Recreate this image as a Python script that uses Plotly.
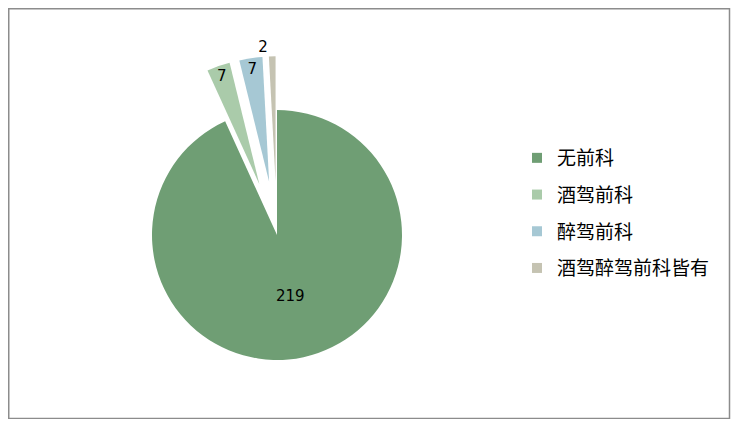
import plotly.graph_objects as go

categories = ["无前科", "酒驾前科", "醉驾前科", "酒驾醉驾前科皆有"]
values = [219, 7, 7, 2]
colors = ["#6F9E74", "#AACBAA", "#A6C8D4", "#C5C3B2"]
pulls = [0, 0.43, 0.43, 0.43]
text_pos = ["inside", "inside", "inside", "outside"]

# page has an 8px body margin, so the figure is drawn 8px smaller on each side
OFF = 8
W, H = 739 - 2 * OFF, 427 - 2 * OFF
cx, cy, r = 277 - OFF, 235 - OFF, 125
half = r * (1 + max(pulls))

fig = go.Figure()
fig.add_trace(go.Pie(
    labels=categories, values=values, sort=False, direction="clockwise", rotation=0,
    pull=pulls, marker=dict(colors=colors, line=dict(width=0)),
    textinfo="value", textposition=text_pos, insidetextorientation="horizontal",
    textfont=dict(family="DejaVu Sans", size=15, color="#000000"),
    showlegend=False, hoverinfo="label+value", automargin=False,
    domain=dict(x=[(cx - half) / W, (cx + half) / W],
                y=[(H - cy - half) / H, (H - cy + half) / H]),
))
for i, (c, col) in enumerate(zip(categories, colors)):
    fig.add_trace(go.Scatter(
        x=[None], y=[None], mode="markers", name=c, legendgroup=str(i),
        marker=dict(symbol="square", size=10, color=col),
        showlegend=True, hoverinfo="skip",
    ))

fig.update_layout(
    width=W, height=H, margin=dict(l=0, r=0, t=0, b=0, pad=0, autoexpand=False),
    paper_bgcolor="white", plot_bgcolor="rgba(0,0,0,0)",
    uniformtext=dict(minsize=15, mode="show"),
    xaxis=dict(visible=False), yaxis=dict(visible=False),
    legend=dict(x=(517 - OFF) / W, y=1 - (139 - OFF) / H, xanchor="left", yanchor="top",
                font=dict(family="Noto Sans CJK SC", size=19, color="#000000"),
                tracegroupgap=9, itemwidth=30, bgcolor="rgba(0,0,0,0)"),
    shapes=[dict(type="rect", xref="paper", yref="paper",
                 x0=0.75 / W, x1=(729.5 - OFF) / W, y0=1 - (418.5 - OFF) / H, y1=1 - 0.75 / H,
                 line=dict(color="#8C8C8C", width=1.5), fillcolor="rgba(0,0,0,0)", layer="below")],
)
fig.write_html("out.html")
